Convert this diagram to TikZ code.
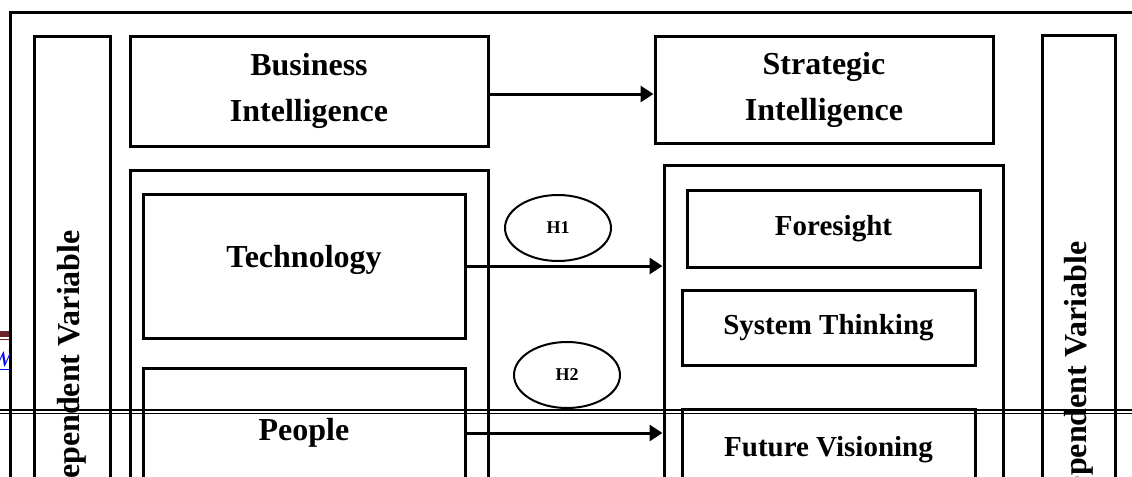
\documentclass[tikz,border=0pt]{standalone}
\usepackage{fontspec}
\setmainfont{Liberation Serif}
\usepackage{xcolor}
\definecolor{hdrbrown}{HTML}{6B2427}
\definecolor{linkblue}{HTML}{0000FF}
\usepackage{tikz}
\usetikzlibrary{arrows.meta,shapes.geometric}

\begin{document}
\begin{tikzpicture}[x=0.5pt,y=-0.5pt,
  box/.style={draw,line width=1.5pt,align=center,inner sep=2pt,
    font=\fontsize{16}{23}\selectfont\bfseries},
  sub/.style={font=\fontsize{14.5}{17}\selectfont\bfseries},
  lbl/.style={inner sep=0pt,font=\fontsize{16}{23}\selectfont\bfseries},
  hyp/.style={draw,ellipse,line width=1pt,inner sep=0pt,minimum width=53pt,
    minimum height=33pt,font=\fontsize{9}{10}\selectfont\bfseries},
  arr/.style={-{Triangle[length=6.5pt,width=8pt]},line width=1.5pt}]
  \clip (0,0) rectangle (1132,477);
  \fill[white] (0,0) rectangle (1132,477);
  % outer frame and the two variable columns
  \draw[line width=1.5pt] (10,12) rectangle (1170,540);
  \node[box,rotate=90,minimum width=342.5pt,minimum height=38pt] (indv)
    at (72,378.5) {Independent Variable};
  \node[box,rotate=90,minimum width=342.3pt,minimum height=36.5pt] (depv)
    at (1078.5,377.3) {Dependent Variable};
  % top row
  \node[box,minimum width=179pt,minimum height=55pt] (bi) at (309,91)
    {Business\\Intelligence};
  \node[box,minimum width=169pt,minimum height=53.5pt] (si) at (824,89.5)
    {Strategic\\Intelligence};
  % groups
  \node[box,minimum width=179pt,minimum height=215pt] (lgrp) at (309,385) {};
  \node[box,minimum width=169.5pt,minimum height=220pt] (rgrp) at (833.5,385) {};
  \node[box,minimum width=161pt,minimum height=72pt] (tech) at (304,266) {};
  \node[lbl] (techtxt) at (304,260) {Technology};
  \node[box,minimum width=161pt,minimum height=65pt] (ppl) at (304,433) {People};
  \node[box,sub,minimum width=146.5pt,minimum height=38.5pt] (fore)
    at (833.5,228.5) {Foresight};
  \node[box,sub,minimum width=146.5pt,minimum height=37.5pt] (syst)
    at (828.5,327.5) {System Thinking};
  \node[box,sub,minimum width=146.5pt,minimum height=41pt] (futv)
    at (828.5,450) {Future Visioning};
  % hypotheses
  \node[hyp] (h1) at (558,228) {H1};
  \node[hyp] (h2) at (567,375) {H2};
  \coordinate (bistart) at ([yshift=-1.5pt]bi.east);
  \draw[arr] (bistart) -- (bistart -| si.west);
  \draw[arr] (tech.east) -- (tech.east -| rgrp.west);
  \draw[arr] (ppl.east) -- (ppl.east -| rgrp.west);
  % page break and margin bits
  \draw[line width=1pt] (0,410) -- (1132,410);
  \draw[line width=0.5pt] (0,413.5) -- (1132,413.5);
  \fill[hdrbrown] (0,331) rectangle (9,337);
  \draw[hdrbrown,line width=0.75pt] (0,339.5) -- (9,339.5);
  \begin{scope}
    \clip (0,345) rectangle (9,372);
    \node[anchor=base east,inner sep=0pt,text=linkblue,
      font=\fontsize{12}{12}\selectfont\itshape] (lnk) at (12,366) {\underline{W}};
  \end{scope}
\end{tikzpicture}
\end{document}
